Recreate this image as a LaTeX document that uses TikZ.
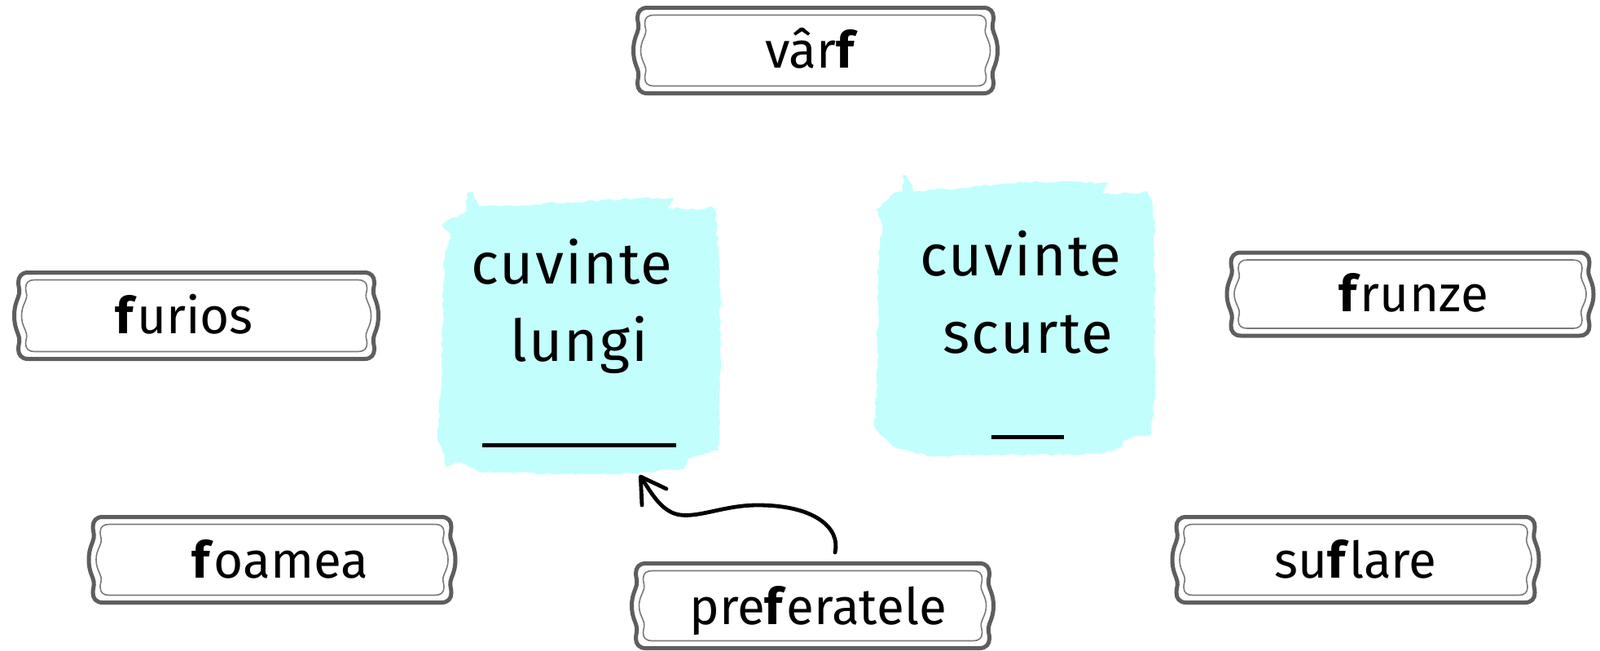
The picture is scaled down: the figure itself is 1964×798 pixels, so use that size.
\documentclass[tikz,border=0pt]{standalone}
\usepackage{fontspec}
\setmainfont{Fira Sans}
\newfontfamily\spacedfont[LetterSpace=3]{Fira Sans}
\usetikzlibrary{arrows.meta,decorations.pathmorphing}
\definecolor{framegray}{HTML}{5E5E5E}
\definecolor{innergray}{HTML}{7A7A7A}
\definecolor{blobcyan}{HTML}{C2FFFC}
\tikzset{
  framebox/.style={inner sep=0pt, outer sep=0pt, draw=none},
  outerframe/.style={draw=framegray, line width=2.5pt, fill=white},
  innerframe/.style={draw=innergray, line width=0.8pt},
  lbl/.style={font=\fontsize{31}{37}\selectfont, anchor=base, inner sep=0pt},
  bigtxt/.style={font=\spacedfont\fontsize{35.5}{42}\selectfont, anchor=base, inner sep=0pt},
  blob/.style={fill=blobcyan, decorate, decoration={random steps, segment length=3pt, amplitude=0.8pt}},
  blank/.style={line width=2.5pt, draw=black},
  curvedarrow/.style={line width=2.4pt, line cap=round, -{Straight Barb[length=15pt, width=18pt, round]}}
}
\newcommand\fancylabel[5]{%
  \node[framebox, minimum width=#4*0.5pt, minimum height=#5*0.5pt] (#1) at (#2,#3) {};
  \begin{scope}[shift={(#1.north west)}]
    \draw[outerframe] (17,0) -- ({#4-17},0)
      .. controls ({#4-9},0) and ({#4-5},5) .. ({#4-5},12)
      .. controls ({#4-5},18) and ({#4-7},20) .. ({#4-6},26)
      .. controls ({#4-5},32) and ({#4},38) .. ({#4},{#5/2})
      .. controls ({#4},{#5-38}) and ({#4-5},{#5-32}) .. ({#4-6},{#5-26})
      .. controls ({#4-7},{#5-20}) and ({#4-5},{#5-18}) .. ({#4-5},{#5-12})
      .. controls ({#4-5},{#5-5}) and ({#4-9},{#5}) .. ({#4-17},{#5})
      -- (17,{#5})
      .. controls (9,{#5}) and (5,{#5-5}) .. (5,{#5-12})
      .. controls (5,{#5-18}) and (7,{#5-20}) .. (6,{#5-26})
      .. controls (5,{#5-32}) and (0,{#5-38}) .. (0,{#5/2})
      .. controls (0,38) and (5,32) .. (6,26)
      .. controls (7,20) and (5,18) .. (5,12)
      .. controls (5,5) and (9,0) .. (17,0) -- cycle;
    \draw[innerframe] (25,9) -- ({#4-25},9)
      .. controls ({#4-18},9) and ({#4-14},12) .. ({#4-14},19)
      .. controls ({#4-14},24) and ({#4-16},26) .. ({#4-15},31)
      .. controls ({#4-14},36) and ({#4-9},42) .. ({#4-9},{#5/2})
      .. controls ({#4-9},{#5-42}) and ({#4-14},{#5-36}) .. ({#4-15},{#5-31})
      .. controls ({#4-16},{#5-26}) and ({#4-14},{#5-24}) .. ({#4-14},{#5-19})
      .. controls ({#4-14},{#5-12}) and ({#4-18},{#5-9}) .. ({#4-25},{#5-9})
      -- (25,{#5-9})
      .. controls (18,{#5-9}) and (14,{#5-12}) .. (14,{#5-19})
      .. controls (14,{#5-24}) and (16,{#5-26}) .. (15,{#5-31})
      .. controls (14,{#5-36}) and (9,{#5-42}) .. (9,{#5/2})
      .. controls (9,42) and (14,36) .. (15,31)
      .. controls (16,26) and (14,24) .. (14,19)
      .. controls (14,12) and (18,9) .. (25,9) -- cycle;
  \end{scope}}
\begin{document}
\begin{tikzpicture}[x=0.5pt, y=-0.5pt]
\useasboundingbox (0,0) rectangle (1964,798);

% cyan blobs
\fill[blob] (573,237) -- (580,235) -- (588,253) -- (620,252) -- (720,247) -- (783,243) -- (827,243) -- (820,255) -- (863,257) -- (873,253) -- (878,257) -- (883,320) -- (885,453) -- (882,553) -- (853,560) -- (845,563) -- (840,575) -- (787,580) -- (720,582) -- (593,580) -- (563,567) -- (547,573) -- (543,553) -- (537,540) -- (542,453) -- (545,320) -- (553,287) -- (542,277) -- (550,270) -- (560,267) -- (572,260) -- cycle;
\fill[blob] (1108,215) -- (1113,215) -- (1122,235) -- (1160,232) -- (1260,223) -- (1320,223) -- (1362,225) -- (1353,237) -- (1397,238) -- (1408,235) -- (1412,243) -- (1417,277) -- (1418,377) -- (1418,477) -- (1413,533) -- (1380,540) -- (1377,548) -- (1353,557) -- (1260,558) -- (1143,560) -- (1100,550) -- (1080,533) -- (1073,523) -- (1077,443) -- (1078,310) -- (1083,277) -- (1075,257) -- (1090,245) -- (1097,237) -- (1108,235) -- cycle;

\node[bigtxt] (lt1) at (702,348) {cuvinte};
\node[bigtxt] (lt2) at (711,443) {lungi};
\coordinate (lb1) at (592,546);
\coordinate (lb2) at (830,546);
\draw[blank] (lb1) -- (lb2);

\node[bigtxt] (rt1) at (1253,338) {cuvinte};
\node[bigtxt] (rt2) at (1262,433) {scurte};
\coordinate (rb1) at (1217,536);
\coordinate (rb2) at (1306,536);
\draw[blank] (rb1) -- (rb2);

% label frames
\fancylabel{varf}{1001}{62}{447}{105}
\fancylabel{furios}{241}{387.5}{447}{106}
\fancylabel{frunze}{1731}{361}{450}{102}
\fancylabel{foamea}{334}{687}{450}{105}
\fancylabel{suflare}{1664}{687}{450}{105}
\fancylabel{pref}{997.5}{743.5}{444}{104}

\node[lbl] (varf-t) at (996,83) {vâr\textbf{f}};
\node[lbl] (furios-t) at (226,409) {\textbf{f}urios};
\node[lbl] (frunze-t) at (1735,382) {\textbf{f}runze};
\node[lbl] (foamea-t) at (344,709) {\textbf{f}oamea};
\node[lbl] (suflare-t) at (1664,709) {su\textbf{f}lare};
\node[lbl] (pref-t) at (1004,766) {pre\textbf{f}eratele};

% arrow
\coordinate (astart) at (1025,678);
\coordinate (aend) at (785,583);
\draw[curvedarrow] (astart) .. controls (1032,648) and (1000,620) .. (930,620)
  .. controls (890,620) and (860,635) .. (835,632)
  .. controls (812,629) and (799,604) .. (aend);
\end{tikzpicture}
\end{document}
